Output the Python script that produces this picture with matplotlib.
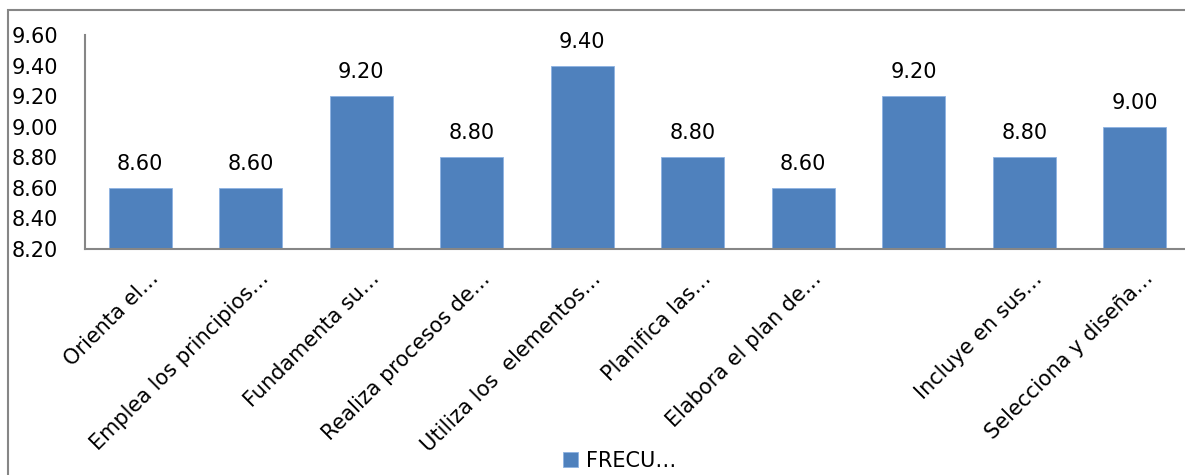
import matplotlib.pyplot as plt
from matplotlib.patches import Rectangle
import matplotlib.transforms as mtransforms

# data
categories = [
    "Orienta el…",
    "Emplea los principios…",
    "Fundamenta su…",
    "Realiza procesos de…",
    "Utiliza los  elementos…",
    "Planifica las…",
    "Elabora el plan de…",
    "",
    "Incluye en sus…",
    "Selecciona y diseña…",
]
values = [8.60, 8.60, 9.20, 8.80, 9.40, 8.80, 8.60, 9.20, 8.80, 9.00]
yticks = [8.20, 8.40, 8.60, 8.80, 9.00, 9.20, 9.40, 9.60]
series_name = "FRECU…"

plt.rcParams["font.family"] = ["DejaVu Sans"]
FS = 15
bar_color = "#4F81BD"
axis_color = "#868686"

fig = plt.figure(figsize=(11.85, 4.75), dpi=100)
ax = fig.add_axes([85 / 1185, 1 - 249 / 475, 1105 / 1185, 214 / 475])

x = list(range(len(values)))
bars = ax.bar(x, [v - yticks[0] for v in values], bottom=yticks[0], width=0.57,
              color=bar_color, edgecolor="#8DB3E2", linewidth=0.6, label=series_name)

for xi, v in zip(x, values):
    ax.annotate(f"{v:.2f}", (xi, v), xytext=(0, 10), textcoords="offset points",
                ha="center", va="bottom", fontsize=FS, color="black")

ax.set_xlim(-0.5, len(values) - 0.5)
ax.set_ylim(yticks[0], yticks[-1])
ax.set_yticks(yticks)
ax.set_yticklabels([f"{t:.2f}" for t in yticks], fontsize=FS)
ax.tick_params(axis="y", length=0, pad=53)
for lab in ax.get_yticklabels():
    lab.set_ha("left")

ax.set_xticks(x)
ax.set_xticklabels(categories, fontsize=FS, rotation=45, ha="right",
                   rotation_mode="anchor", va="center")
ax.tick_params(axis="x", length=0, pad=19)
shift = mtransforms.ScaledTranslation(15 / 100, 0, fig.dpi_scale_trans)
for lab in ax.get_xticklabels():
    lab.set_transform(lab.get_transform() + shift)

for s in ["top", "right"]:
    ax.spines[s].set_visible(False)
for s in ["left", "bottom"]:
    ax.spines[s].set_color(axis_color)
    ax.spines[s].set_linewidth(1.5)

leg = fig.legend(handles=[bars], labels=[series_name], loc="center",
                 bbox_to_anchor=(620 / 1185, 1 - 461 / 475), frameon=False,
                 fontsize=FS, handlelength=0.7, handleheight=0.7, handletextpad=0.4)

# outer chart border
fig.patches.append(Rectangle((8 / 1185, -0.1), 1.2, 1 - 10 / 475 + 0.1,
                             transform=fig.transFigure, fill=False,
                             edgecolor=axis_color, linewidth=1.5))

fig.savefig("out.png", dpi=100)
